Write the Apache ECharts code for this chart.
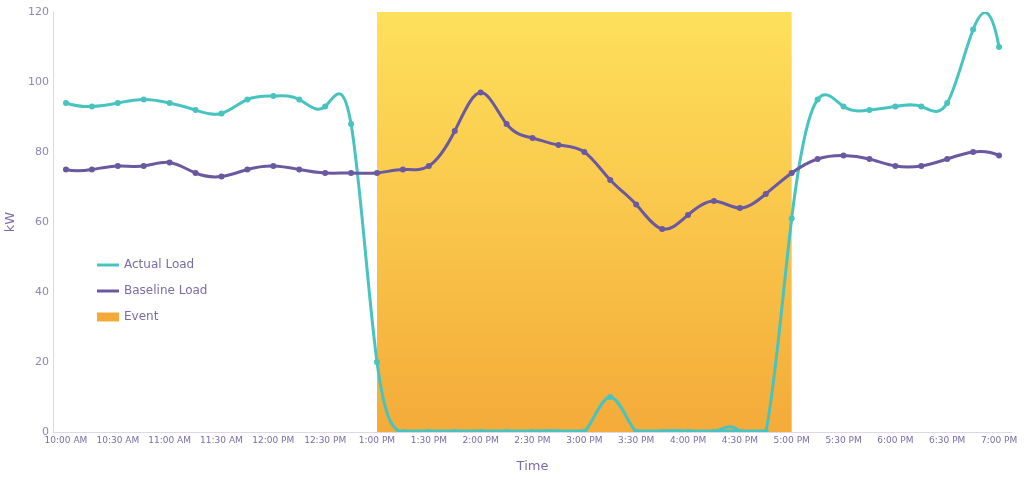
<!DOCTYPE html>
<html>
<head>
<meta charset="utf-8">
<script src="https://cdn.jsdelivr.net/npm/echarts@6/dist/echarts.min.js"></script>
<style>
  html, body { margin: 0; padding: 0; background: #fff; }
  #chart { width: 1024px; height: 480px; }
</style>
</head>
<body>
<div id="chart"></div>
<script>
var times = ['10:00 AM', '10:15 AM', '10:30 AM', '10:45 AM', '11:00 AM', '11:15 AM', '11:30 AM', '11:45 AM',
  '12:00 PM', '12:15 PM', '12:30 PM', '12:45 PM', '1:00 PM', '1:15 PM', '1:30 PM', '1:45 PM',
  '2:00 PM', '2:15 PM', '2:30 PM', '2:45 PM', '3:00 PM', '3:15 PM', '3:30 PM', '3:45 PM',
  '4:00 PM', '4:15 PM', '4:30 PM', '4:45 PM', '5:00 PM', '5:15 PM', '5:30 PM', '5:45 PM',
  '6:00 PM', '6:15 PM', '6:30 PM', '6:45 PM', '7:00 PM'];

var actualLoad = [94, 93, 94, 95, 94, 92, 91, 95, 96, 95, 93, 88, 20, 0, 0, 0,
  0, 0, 0, 0, 0, 10, 0, 0, 0, 0, 0, 0, 61, 95, 93, 92,
  93, 93, 94, 115, 110];

var baselineLoad = [75, 75, 76, 76, 77, 74, 73, 75, 76, 75, 74, 74, 74, 75, 76, 86,
  97, 88, 84, 82, 80, 72, 65, 58, 62, 66, 64, 68, 74, 78, 79, 78,
  76, 76, 78, 80, 79];

var eventStart = '1:00 PM';
var eventEnd = '5:00 PM';

var textColor = '#7a6ca8';
var tealColor = '#48c4c0';
var purpleColor = '#6a58a0';

// slopes of a not-a-knot cubic spline through the points (unit spacing),
// used only to shape the curve between the data points
function splineSlopes(y) {
  var n = y.length;
  var A = [], b = [];
  for (var r = 0; r < n; r++) {
    A.push(new Array(n).fill(0));
    b.push(0);
  }
  A[0][0] = 1; A[0][1] = -2; A[0][2] = 1;
  for (var i = 1; i < n - 1; i++) {
    A[i][i - 1] = 1; A[i][i] = 4; A[i][i + 1] = 1;
    b[i] = 6 * (y[i - 1] - 2 * y[i] + y[i + 1]);
  }
  A[n - 1][n - 3] = 1; A[n - 1][n - 2] = -2; A[n - 1][n - 1] = 1;
  // gaussian elimination
  for (var c = 0; c < n; c++) {
    var p = c;
    for (var r2 = c + 1; r2 < n; r2++) if (Math.abs(A[r2][c]) > Math.abs(A[p][c])) p = r2;
    var t = A[c]; A[c] = A[p]; A[p] = t;
    var tb = b[c]; b[c] = b[p]; b[p] = tb;
    for (var r3 = c + 1; r3 < n; r3++) {
      var f = A[r3][c] / A[c][c];
      if (!f) continue;
      for (var k = c; k < n; k++) A[r3][k] -= f * A[c][k];
      b[r3] -= f * b[c];
    }
  }
  var M = new Array(n).fill(0);
  for (var r4 = n - 1; r4 >= 0; r4--) {
    var s = b[r4];
    for (var k2 = r4 + 1; k2 < n; k2++) s -= A[r4][k2] * M[k2];
    M[r4] = s / A[r4][r4];
  }
  var m = [];
  for (var j = 0; j < n - 1; j++) m.push((y[j + 1] - y[j]) - (2 * M[j] + M[j + 1]) / 6);
  m.push((y[n - 1] - y[n - 2]) + (M[n - 2] + 2 * M[n - 1]) / 6);
  return m;
}

function curveRenderer(values, color) {
  var slopes = splineSlopes(values);
  return function (params, api) {
    var i = params.dataIndex;
    var p0 = api.coord([i, values[i]]);
    var children = [];
    if (i < values.length - 1) {
      var p1 = api.coord([i + 1, values[i + 1]]);
      var c0 = api.coord([i, values[i] + slopes[i] / 3]);
      var c1 = api.coord([i + 1, values[i + 1] - slopes[i + 1] / 3]);
      var dx = (p1[0] - p0[0]) / 3;
      children.push({
        type: 'bezierCurve',
        shape: { x1: p0[0], y1: p0[1], x2: p1[0], y2: p1[1],
          cpx1: p0[0] + dx, cpy1: c0[1], cpx2: p1[0] - dx, cpy2: c1[1] },
        style: { stroke: color, lineWidth: 3, fill: null, lineCap: 'round' },
        z2: 1
      });
      // curve dips below zero are cut off at the axis, keep the run at zero visible
      if (values[i] === 0 && values[i + 1] === 0) {
        children.push({
          type: 'line',
          shape: { x1: p0[0], y1: p0[1], x2: p1[0], y2: p1[1] },
          style: { stroke: color, lineWidth: 5 },
          z2: 1
        });
      }
    }
    children.push({
      type: 'circle',
      shape: { cx: p0[0], cy: p0[1], r: 3 },
      style: { fill: color },
      z2: 5
    });
    return { type: 'group', children: children };
  };
}

var myChart = echarts.init(document.getElementById('chart'));
var option = {
  textStyle: { fontFamily: 'DejaVu Sans' },
  grid: { left: 53, right: 12, top: 12, bottom: 48, containLabel: false, outerBoundsMode: 'none' },
  legend: {
    orient: 'vertical',
    left: 92,
    top: 254,
    itemWidth: 22,
    itemHeight: 9,
    itemGap: 14,
    textStyle: { color: textColor, fontSize: 12, fontFamily: 'DejaVu Sans' },
    data: [
      { name: 'Actual Load', icon: 'path://M0,0 L22,0 L22,3 L0,3 Z' },
      { name: 'Baseline Load', icon: 'path://M0,0 L22,0 L22,3 L0,3 Z' },
      { name: 'Event', icon: 'rect' }
    ]
  },
  xAxis: {
    type: 'category',
    data: times,
    boundaryGap: true,
    name: 'Time',
    nameLocation: 'middle',
    nameGap: 28,
    nameTextStyle: { color: textColor, fontSize: 13 },
    axisLine: { lineStyle: { color: '#dcd8e8' } },
    axisTick: { show: false },
    axisLabel: { interval: 1, color: textColor, fontSize: 9, margin: 4 }
  },
  yAxis: {
    type: 'value',
    min: 0,
    max: 120,
    interval: 20,
    name: 'kW',
    nameLocation: 'middle',
    nameGap: 34,
    nameTextStyle: { color: textColor, fontSize: 13 },
    axisLine: { show: true, lineStyle: { color: '#dcd8e8' } },
    axisTick: { show: false },
    splitLine: { show: false },
    axisLabel: { color: '#8f85b5', fontSize: 11, margin: 4 }
  },
  series: [
    {
      name: 'Event',
      type: 'line',
      data: [],
      z: 1,
      itemStyle: { color: '#f4aa3b' },
      markArea: {
        silent: true,
        itemStyle: {
          color: new echarts.graphic.LinearGradient(0, 0, 0, 1, [
            { offset: 0, color: '#fee05c' },
            { offset: 1, color: '#f4ab39' }
          ])
        },
        data: [[{ xAxis: eventStart, yAxis: 120 }, { xAxis: eventEnd, yAxis: 0 }]]
      }
    },
    {
      name: 'Actual Load',
      type: 'custom',
      clip: true,
      z: 3,
      itemStyle: { color: tealColor },
      data: actualLoad.map(function (v, i) { return [i, v]; }),
      encode: { x: 0, y: 1 },
      renderItem: curveRenderer(actualLoad, tealColor)
    },
    {
      name: 'Baseline Load',
      type: 'custom',
      clip: true,
      z: 4,
      itemStyle: { color: purpleColor },
      data: baselineLoad.map(function (v, i) { return [i, v]; }),
      encode: { x: 0, y: 1 },
      renderItem: curveRenderer(baselineLoad, purpleColor)
    }
  ]
};
myChart.setOption(option);
</script>
</body>
</html>
